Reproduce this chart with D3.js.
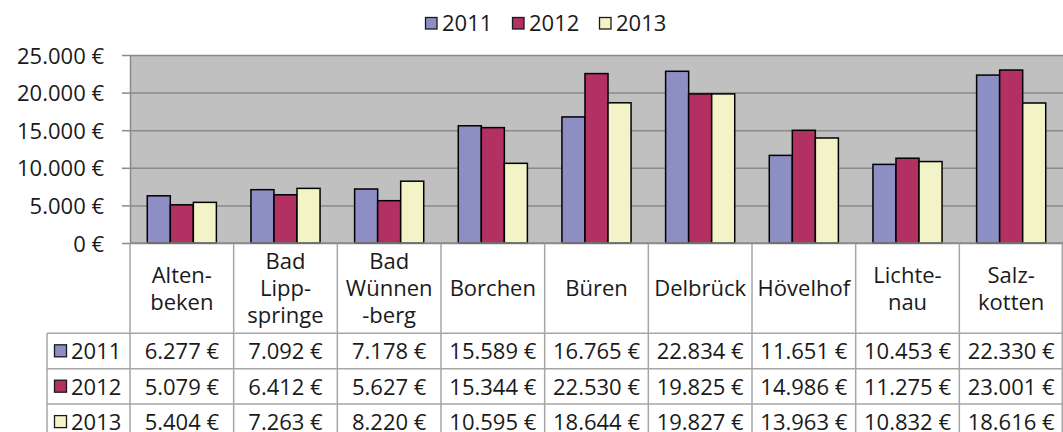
<!DOCTYPE html>
<html>
<head>
<meta charset="utf-8">
<script src="https://cdn.jsdelivr.net/npm/d3@7"></script>
<style>
  body { margin: 0; background: #fff; }
  svg { display: block; font-family: "Open Sans", sans-serif; fill: #1a1a1a; }
  .grid line { stroke: #8a8a8a; stroke-width: 1.5; }
  .grid path { display: none; }
  .y-axis path, .y-axis line { stroke: #8a8a8a; stroke-width: 1.5; }
  .table-line { stroke: #a6a6a6; stroke-width: 1.5; fill: none; }
</style>
</head>
<body>
<svg id="chart" width="1063" height="432"></svg>
<script>
// ---- data ----
const categories = ['Altenbeken', 'Bad Lippspringe', 'Bad Wünnenberg', 'Borchen', 'Büren',
  'Delbrück', 'Hövelhof', 'Lichtenau', 'Salzkotten'];
const categoryLines = [['Alten-', 'beken'], ['Bad', 'Lipp-', 'springe'], ['Bad', 'Wünnen', '-berg'],
  ['Borchen'], ['Büren'], ['Delbrück'], ['Hövelhof'], ['Lichte-', 'nau'], ['Salz-', 'kotten']];
const years = ['2011', '2012', '2013'];
const values2011 = [6277, 7092, 7178, 15589, 16765, 22834, 11651, 10453, 22330];
const values2012 = [5079, 6412, 5627, 15344, 22530, 19825, 14986, 11275, 23001];
const values2013 = [5404, 7263, 8220, 10595, 18644, 19827, 13963, 10832, 18616];
const yTicks = [0, 5000, 10000, 15000, 20000, 25000];
const colors = ['#8c8ec4', '#b33062', '#f3f3c8'];

const seriesValues = [values2011, values2012, values2013];

// ---- layout ----
const plot = { left: 130, right: 1063, top: 55, bottom: 243 };
const rowH = 35.4;
const headerBottom = 333.3;
const tableLeft = 47;
const fontSize = 22;

const de = d3.formatLocale({ decimal: ',', thousands: '.', grouping: [3], currency: ['', ' €'] });
const fmt = de.format('$,.0f');

const svg = d3.select('#chart');

const x0 = d3.scaleBand()
  .domain(categories)
  .range([plot.left, plot.right])
  .paddingInner(0)
  .paddingOuter(0);

// Excel-style gap width 150%
const barW = x0.bandwidth() / (years.length + 1.5);
const x1 = d3.scaleBand()
  .domain(years)
  .range([0, barW * years.length]);
const groupOffset = (x0.bandwidth() - barW * years.length) / 2;

const y = d3.scaleLinear()
  .domain([0, 25000])
  .range([plot.bottom, plot.top]);

// plot background
svg.append('rect')
  .attr('x', plot.left)
  .attr('y', plot.top)
  .attr('width', plot.right - plot.left)
  .attr('height', plot.bottom - plot.top)
  .attr('fill', '#c0c0c0');

// gridlines
svg.append('g')
  .attr('class', 'grid')
  .attr('transform', `translate(${ plot.left },0)`)
  .call(d3.axisLeft(y)
    .tickValues(yTicks)
    .tickSize(-(plot.right - plot.left))
    .tickFormat(''));

// bars
const groups = svg.append('g').attr('class', 'g-chart-bars')
  .selectAll('g')
  .data(categories)
  .enter()
  .append('g')
    .attr('transform', (d) => `translate(${ x0(d) + groupOffset },0)`);

groups.selectAll('rect')
  .data((d, i) => years.map((yr, s) => ({ year: yr, value: seriesValues[s][i], s })))
  .enter()
  .append('rect')
    .attr('x', (d) => x1(d.year))
    .attr('y', (d) => y(d.value))
    .attr('width', x1.bandwidth())
    .attr('height', (d) => y(0) - y(d.value))
    .attr('fill', (d) => colors[d.s])
    .attr('stroke', '#000')
    .attr('stroke-width', 1.5);

// y axis
const yAxis = svg.append('g')
  .attr('class', 'y-axis')
  .attr('transform', `translate(${ plot.left },0)`)
  .call(d3.axisLeft(y)
    .tickValues(yTicks)
    .tickSize(8)
    .tickSizeOuter(0)
    .tickPadding(18)
    .tickFormat(fmt));
yAxis.selectAll('text')
  .attr('font-size', fontSize)
  .attr('font-family', '"Open Sans", sans-serif')
  .attr('fill', '#1a1a1a')
  .attr('dy', '0.37em');

// ---- data table ----
const table = svg.append('g').attr('class', 'g-table');

// header row verticals
x0.domain().forEach((c) => {
  table.append('line').attr('class', 'table-line')
    .attr('x1', x0(c)).attr('x2', x0(c))
    .attr('y1', plot.bottom).attr('y2', 440);
});
table.append('line').attr('class', 'table-line')
  .attr('x1', plot.right - 0.75).attr('x2', plot.right - 0.75)
  .attr('y1', plot.bottom).attr('y2', 440);
table.append('line').attr('class', 'table-line')
  .attr('x1', tableLeft).attr('x2', tableLeft)
  .attr('y1', headerBottom).attr('y2', 440);

// horizontal lines
[0, 1, 2, 3].forEach((r) => {
  const yy = headerBottom + r * rowH;
  table.append('line').attr('class', 'table-line')
    .attr('x1', tableLeft).attr('x2', plot.right)
    .attr('y1', yy).attr('y2', yy);
});

// x axis line on top of table
svg.append('line')
  .attr('x1', plot.left).attr('x2', plot.right)
  .attr('y1', plot.bottom).attr('y2', plot.bottom)
  .attr('stroke', '#8a8a8a').attr('stroke-width', 1.5);

// category labels
const lineH = 26.7;
const headerMid = (plot.bottom + headerBottom) / 2 + 8;
categories.forEach((c, i) => {
  const lines = categoryLines[i];
  const t = table.append('text')
    .attr('text-anchor', 'middle')
    .attr('font-size', fontSize);
  lines.forEach((ln, k) => {
    t.append('tspan')
      .attr('x', x0(c) + x0.bandwidth() / 2)
      .attr('y', headerMid + (k - (lines.length - 1) / 2) * lineH)
      .text(ln);
  });
});

// data rows
years.forEach((yr, s) => {
  const rowTop = headerBottom + s * rowH;
  const base = rowTop + 26;
  // legend key
  table.append('rect')
    .attr('x', 54.5).attr('y', rowTop + 11.5)
    .attr('width', 12).attr('height', 12)
    .attr('fill', colors[s]).attr('stroke', '#1a1a1a').attr('stroke-width', 1.3);
  table.append('text')
    .attr('x', 71).attr('y', base)
    .attr('font-size', fontSize)
    .text(yr);
  categories.forEach((c, i) => {
    table.append('text')
      .attr('x', x0(c) + x0.bandwidth() / 2)
      .attr('y', base)
      .attr('text-anchor', 'middle')
      .attr('font-size', fontSize)
      .text(fmt(seriesValues[s][i]));
  });
});

// ---- legend ----
const legend = svg.append('g').attr('class', 'g-legend');
const legendX = [425, 512, 599];
years.forEach((yr, s) => {
  legend.append('rect')
    .attr('x', legendX[s] + 0.5).attr('y', 17.5)
    .attr('width', 11.5).attr('height', 11.5)
    .attr('fill', colors[s]).attr('stroke', '#1a1a1a').attr('stroke-width', 1.3);
  legend.append('text')
    .attr('x', legendX[s] + 17).attr('y', 31)
    .attr('font-size', fontSize)
    .text(yr);
});
</script>
</body>
</html>
